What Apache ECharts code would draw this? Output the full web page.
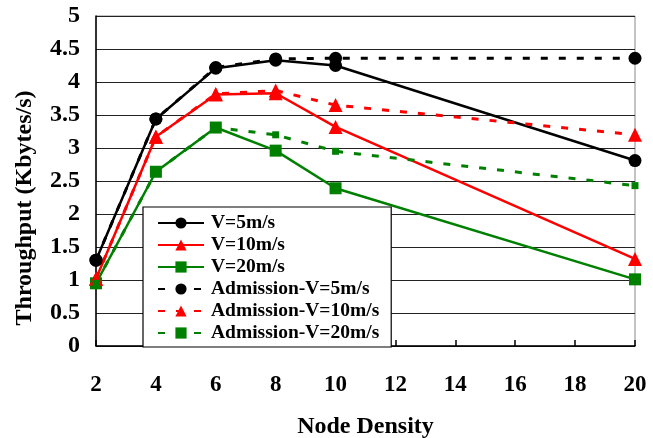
<!DOCTYPE html>
<html>
<head>
<meta charset="utf-8">
<script src="https://cdn.jsdelivr.net/npm/echarts@6/dist/echarts.min.js"></script>
<style>html,body{margin:0;padding:0;background:#fff}#c{width:653px;height:438px}</style>
</head>
<body>
<div id="c"></div>
<script>
var nodeDensity = [2, 4, 6, 8, 10, 20];
var v5 = [1.30, 3.44, 4.21, 4.33, 4.25, 2.81];
var v10 = [1.02, 3.17, 3.81, 3.83, 3.32, 1.32];
var v20 = [0.95, 2.64, 3.31, 2.96, 2.39, 1.01];
var admV5 = [1.30, 3.44, 4.22, 4.35, 4.36, 4.36];
var admV10 = [1.02, 3.17, 3.82, 3.87, 3.65, 3.20];
var admV20 = [0.95, 2.64, 3.31, 3.20, 2.95, 2.43];
var names = ['V=5m/s', 'V=10m/s', 'V=20m/s', 'Admission-V=5m/s', 'Admission-V=10m/s', 'Admission-V=20m/s'];

function pairs(vals) { return nodeDensity.map(function (x, i) { return [x, vals[i]]; }); }
var FONT = "'Liberation Serif','Times New Roman',serif";

function mk(name, vals, color, symbol, size, dashed) {
  return {
    name: name, type: 'line', data: pairs(vals),
    symbol: symbol, symbolSize: size, z: dashed ? 3 : 2,
    lineStyle: { color: color, width: dashed ? 3 : 2.5, type: dashed ? [7, 11] : 'solid' },
    itemStyle: { color: color },
    animation: false
  };
}

var chart = echarts.init(document.getElementById('c'));
chart.setOption({
  animation: false,
  grid: { left: 96, right: 18, top: 16, bottom: 92, outerBoundsMode: 'none', containLabel: false,
          show: true, borderColor: '#888', borderWidth: 1, backgroundColor: 'transparent' },
  xAxis: {
    type: 'value', min: 2, max: 20, interval: 2,
    name: 'Node Density', nameLocation: 'middle', nameGap: 69,
    nameTextStyle: { fontFamily: FONT, fontWeight: 'bold', fontSize: 24, color: '#000' },
    axisLine: { show: true, lineStyle: { color: '#000', width: 1.5 } },
    axisTick: { show: true, inside: true, length: 6, lineStyle: { color: '#000', width: 1.5 } },
    axisLabel: { fontFamily: FONT, fontWeight: 'bold', fontSize: 23, color: '#000', margin: 28 },
    splitLine: { show: false }
  },
  yAxis: {
    type: 'value', min: 0, max: 5, interval: 0.5,
    name: 'Throughput (Kbytes/s)', nameLocation: 'middle', nameGap: 59, nameRotate: 90,
    nameTextStyle: { fontFamily: FONT, fontWeight: 'bold', fontSize: 24, color: '#000', padding: [0, 54, 0, 0] },
    axisLine: { show: true, lineStyle: { color: '#000', width: 1.5 } },
    axisTick: { show: false },
    axisLabel: { fontFamily: FONT, fontWeight: 'bold', fontSize: 24, color: '#000', margin: 16 },
    splitLine: { show: true, lineStyle: { color: '#222', width: 1.2 } }
  },
  legend: {
    orient: 'vertical', left: 143, top: 207,
    data: names,
    backgroundColor: '#fff', borderColor: '#000', borderWidth: 1.2,
    padding: [6, 12, 4, 14], itemGap: 2, itemWidth: 46, itemHeight: 14,
    textStyle: { fontFamily: FONT, fontWeight: 'bold', fontSize: 19.5, lineHeight: 20, color: '#000', padding: [0, 0, 0, 2] },
    selectedMode: false, z: 10
  },
  series: [
    mk(names[0], v5, '#000000', 'circle', 13, false),
    mk(names[1], v10, '#ff0000', 'triangle', 14, false),
    mk(names[2], v20, '#008000', 'rect', 12, false),
    mk(names[3], admV5, '#000000', 'circle', 13, true),
    mk(names[4], admV10, '#ff0000', 'triangle', 14, true),
    mk(names[5], admV20, '#008000', 'rect', 7, true)
  ]
});
</script>
</body>
</html>
